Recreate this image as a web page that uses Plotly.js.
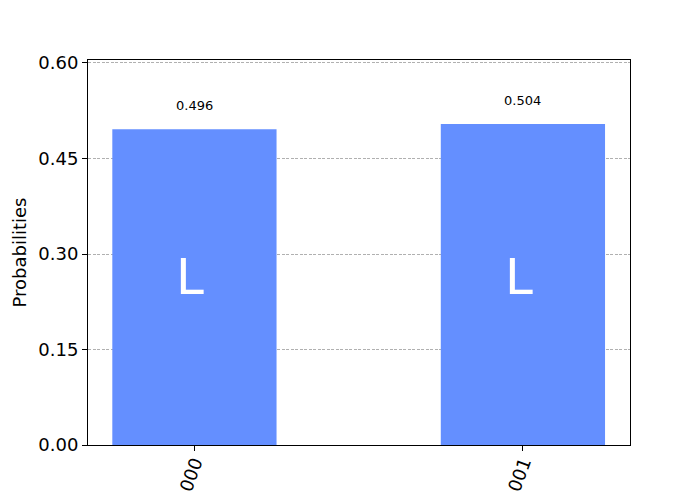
<!DOCTYPE html>
<html>
<head>
<meta charset="utf-8">
<script src="https://cdn.plot.ly/plotly-3.0.1.min.js"></script>
<style>body{margin:0;padding:0;background:#fff;} #chart{width:700px;height:500px;}</style>
</head>
<body>
<div id="chart"></div>
<script>
const categories = ["000", "001"];
const probabilities = [0.496, 0.504];
const valueLabels = ["0.496", "0.504"];
const barText = ["L", "L"];
const yTicks = [0, 0.15, 0.30, 0.45, 0.60];
const yTickLabels = ["0.00", "0.15", "0.30", "0.45", "0.60"];

const FONT = "DejaVu Sans, sans-serif";

const trace = {
  type: "bar",
  x: categories,
  y: probabilities,
  width: 0.5,
  marker: {color: "#648fff"},
  hoverinfo: "skip"
};

const annotations = [];
categories.forEach((c, i) => {
  annotations.push({
    x: c, y: probabilities[i], xref: "x", yref: "y",
    text: valueLabels[i], showarrow: false,
    yanchor: "bottom", yshift: 14,
    font: {family: FONT, size: 13, color: "#000"}
  });
  annotations.push({
    x: c, y: 0.436, xref: "x", yref: "paper",
    text: barText[i], showarrow: false,
    yanchor: "middle", xshift: -4,
    font: {family: FONT, size: 50, color: "#fff"}
  });
});

const layout = {
  width: 700, height: 500,
  margin: {l: 88, r: 70, t: 60, b: 55},
  paper_bgcolor: "#fff", plot_bgcolor: "#fff",
  showlegend: false,
  font: {family: FONT, color: "#000"},
  xaxis: {
    type: "category",
    range: [-0.324, 1.326],
    tickangle: -70,
    ticklabelstandoff: -6,
    ticks: "outside", ticklen: 5, tickcolor: "#000", tickwidth: 1,
    showline: true, linecolor: "#000", linewidth: 1, mirror: true,
    showgrid: false, zeroline: false,
    tickfont: {family: FONT, size: 18, color: "#000"}
  },
  yaxis: {
    range: [0, 0.6047],
    tickvals: yTicks, ticktext: yTickLabels,
    ticks: "outside", ticklen: 5, tickcolor: "#000", tickwidth: 1,
    showline: true, linecolor: "#000", linewidth: 1, mirror: true,
    showgrid: true, gridcolor: "#b0b0b0", griddash: "3px,1.5px", gridwidth: 1,
    zeroline: false,
    tickfont: {family: FONT, size: 18, color: "#000"},
    title: {text: "Probabilities", font: {family: FONT, size: 18, color: "#000"}, standoff: 7}
  },
  annotations: annotations
};

Plotly.newPlot("chart", [trace], layout, {staticPlot: true, displayModeBar: false});
</script>
</body>
</html>
